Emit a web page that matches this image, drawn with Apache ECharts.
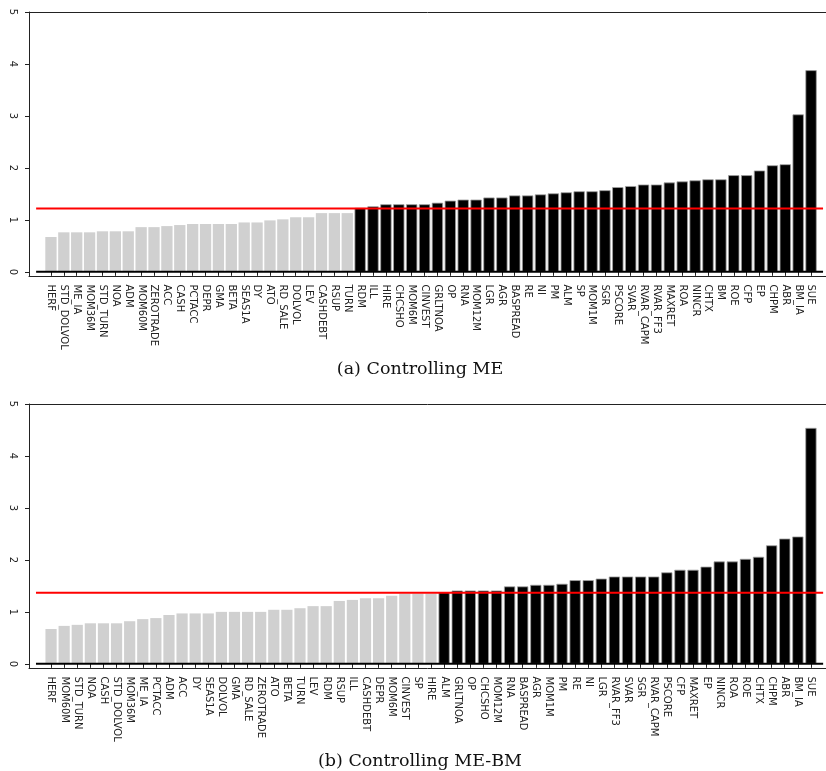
<!DOCTYPE html>
<html>
<head>
<meta charset="utf-8">
<script src="https://cdn.jsdelivr.net/npm/echarts@6/dist/echarts.min.js"></script>
<style>
  html, body { margin: 0; padding: 0; background: #ffffff; }
  #chart { width: 826px; height: 771px; }
</style>
</head>
<body>
<div id="chart"></div>
<script>
// Panel (a): anomaly t-statistics after controlling for ME
const namesA = ['HERF', 'STD_DOLVOL', 'ME_IA', 'MOM36M', 'STD_TURN', 'NOA', 'ADM', 'MOM60M', 'ZEROTRADE', 'ACC',
  'CASH', 'PCTACC', 'DEPR', 'GMA', 'BETA', 'SEAS1A', 'DY', 'ATO', 'RD_SALE', 'DOLVOL',
  'LEV', 'CASHDEBT', 'RSUP', 'TURN', 'RDM', 'ILL', 'HIRE', 'CHCSHO', 'MOM6M', 'CINVEST',
  'GRLTNOA', 'OP', 'RNA', 'MOM12M', 'LGR', 'AGR', 'BASPREAD', 'RE', 'NI', 'PM',
  'ALM', 'SP', 'MOM1M', 'SGR', 'PSCORE', 'SVAR', 'RVAR_CAPM', 'RVAR_FF3', 'MAXRET', 'ROA',
  'NINCR', 'CHTX', 'BM', 'ROE', 'CFP', 'EP', 'CHPM', 'ABR', 'BM_IA', 'SUE'];
const valuesA = [0.67, 0.76, 0.76, 0.76, 0.78, 0.78, 0.78, 0.86, 0.86, 0.88,
  0.90, 0.92, 0.92, 0.92, 0.92, 0.95, 0.95, 0.99, 1.01, 1.05,
  1.05, 1.13, 1.13, 1.13, 1.23, 1.26, 1.30, 1.30, 1.30, 1.30,
  1.33, 1.37, 1.39, 1.39, 1.43, 1.43, 1.47, 1.47, 1.49, 1.51,
  1.53, 1.55, 1.55, 1.57, 1.63, 1.65, 1.68, 1.68, 1.72, 1.74,
  1.76, 1.78, 1.78, 1.86, 1.86, 1.95, 2.05, 2.07, 3.03, 3.88];
const thresholdA = 1.22;
const captionA = '(a) Controlling ME';

// Panel (b): anomaly t-statistics after controlling for ME and BM
const namesB = ['HERF', 'MOM60M', 'STD_TURN', 'NOA', 'CASH', 'STD_DOLVOL', 'MOM36M', 'ME_IA', 'PCTACC', 'ADM',
  'ACC', 'DY', 'SEAS1A', 'DOLVOL', 'GMA', 'RD_SALE', 'ZEROTRADE', 'ATO', 'BETA', 'TURN',
  'LEV', 'RDM', 'RSUP', 'ILL', 'CASHDEBT', 'DEPR', 'MOM6M', 'CINVEST', 'SP', 'HIRE',
  'ALM', 'GRLTNOA', 'OP', 'CHCSHO', 'MOM12M', 'RNA', 'BASPREAD', 'AGR', 'MOM1M', 'PM',
  'RE', 'NI', 'LGR', 'RVAR_FF3', 'SVAR', 'SGR', 'RVAR_CAPM', 'PSCORE', 'CFP', 'MAXRET',
  'EP', 'NINCR', 'ROA', 'ROE', 'CHTX', 'CHPM', 'ABR', 'BM_IA', 'SUE'];
const valuesB = [0.67, 0.73, 0.75, 0.78, 0.78, 0.78, 0.82, 0.86, 0.88, 0.94,
  0.97, 0.97, 0.97, 1.00, 1.00, 1.00, 1.00, 1.04, 1.04, 1.07,
  1.11, 1.11, 1.21, 1.23, 1.26, 1.26, 1.31, 1.35, 1.35, 1.35,
  1.38, 1.41, 1.41, 1.41, 1.41, 1.49, 1.49, 1.52, 1.52, 1.54,
  1.61, 1.61, 1.64, 1.68, 1.68, 1.68, 1.68, 1.76, 1.81, 1.81,
  1.87, 1.97, 1.97, 2.02, 2.06, 2.28, 2.41, 2.45, 4.54];
const thresholdB = 1.37;
const captionB = '(b) Controlling ME-BM';

const yTicks = [0, 1, 2, 3, 4, 5];
const yMin = -0.09;
const yMax = 5;

// ---- layout (pixels) ----
const frameLeft = 29;          // left spine of each panel
const barsLeft = 44.5;         // left edge of the first bar band
const barsWidth = 773;         // width spanned by all bar bands
const panelHeight = 264.5;
const panelTops = [12, 404];
const frameWidth = 826 - frameLeft; // frame runs to the right edge of the canvas

const GREY = '#d0d0d0';
const BLACK = '#000000';
const INK = '#222222';

const chart = echarts.init(document.getElementById('chart'), null, { renderer: 'canvas' });

const grids = [], xAxes = [], yAxes = [], series = [], graphics = [];

function spineAxis(gridIndex, position, min, max) {
  return {
    gridIndex: gridIndex, type: 'value', position: position, min: min, max: max,
    axisLine: { show: true, onZero: false, lineStyle: { color: INK, width: 1 } },
    axisTick: { show: false }, axisLabel: { show: false }, splitLine: { show: false }
  };
}

function addPanel(names, values, threshold, caption, top, barWidth) {
  const n = names.length;
  const band = barsWidth / n;
  // frame grid x axis measured in bar-index units, so the reference lines line up with the bars
  const uMin = -0.5 - (barsLeft - frameLeft) / band;
  const uMax = uMin + frameWidth / band;

  const frameIdx = grids.length;
  grids.push({ left: frameLeft, top: top, width: frameWidth, height: panelHeight });
  const barIdx = grids.length;
  grids.push({ left: barsLeft, top: top, width: barsWidth, height: panelHeight });

  // bottom and top spines of the frame
  const xFrameBottom = xAxes.length;
  xAxes.push(spineAxis(frameIdx, 'bottom', uMin, uMax));
  xAxes.push(spineAxis(frameIdx, 'top', uMin, uMax));
  const xBars = xAxes.length;
  xAxes.push({
    gridIndex: barIdx, type: 'category', data: names, position: 'bottom',
    axisLine: { show: false },
    axisTick: { show: true, alignWithLabel: true, length: 4, lineStyle: { color: INK, width: 1 } },
    axisLabel: { interval: 0, rotate: -90, margin: 8, fontSize: 10, fontFamily: 'DejaVu Sans', color: INK }
  });

  const yFrame = yAxes.length;
  yAxes.push({
    gridIndex: frameIdx, type: 'value', min: yMin, max: yMax, position: 'left',
    axisLine: { show: true, onZero: false, lineStyle: { color: INK, width: 1 } },
    axisTick: { show: true, length: 4, customValues: yTicks, lineStyle: { color: INK, width: 1 } },
    axisLabel: { customValues: yTicks, rotate: -90, margin: 11, fontSize: 10, fontFamily: 'DejaVu Sans', color: INK },
    splitLine: { show: false }
  });
  const yBars = yAxes.length;
  yAxes.push({ gridIndex: barIdx, type: 'value', min: yMin, max: yMax, show: false, splitLine: { show: false } });

  series.push({
    type: 'bar', xAxisIndex: xBars, yAxisIndex: yBars, barWidth: barWidth,
    data: values.map(v => ({
      value: v,
      itemStyle: v > threshold
        ? { color: BLACK, borderColor: '#a0a0a0', borderWidth: 0.8 }
        : { color: GREY, borderWidth: 0 }
    })),
    z: 2
  });
  const x0 = -1.15, x1 = n - 0.07;
  series.push({
    type: 'line', xAxisIndex: xFrameBottom, yAxisIndex: yFrame, symbol: 'none', z: 4,
    data: [[x0, 0], [x1, 0]], lineStyle: { color: BLACK, width: 2 }
  });
  series.push({
    type: 'line', xAxisIndex: xFrameBottom, yAxisIndex: yFrame, symbol: 'none', z: 5,
    data: [[x0, threshold], [x1, threshold]], lineStyle: { color: '#ff0000', width: 2 }
  });

  graphics.push({
    type: 'text', x: 420, y: top + panelHeight + 92.5,
    style: { text: caption, x: 0, y: 0, align: 'center', verticalAlign: 'middle',
      font: '17.5px "DejaVu Serif"', fill: '#111111' }
  });
}

addPanel(namesA, valuesA, thresholdA, captionA, panelTops[0], 11.3);
addPanel(namesB, valuesB, thresholdB, captionB, panelTops[1], 11.2);

chart.setOption({
  animation: false,
  backgroundColor: '#ffffff',
  grid: grids,
  xAxis: xAxes,
  yAxis: yAxes,
  series: series,
  graphic: graphics
});
</script>
</body>
</html>
